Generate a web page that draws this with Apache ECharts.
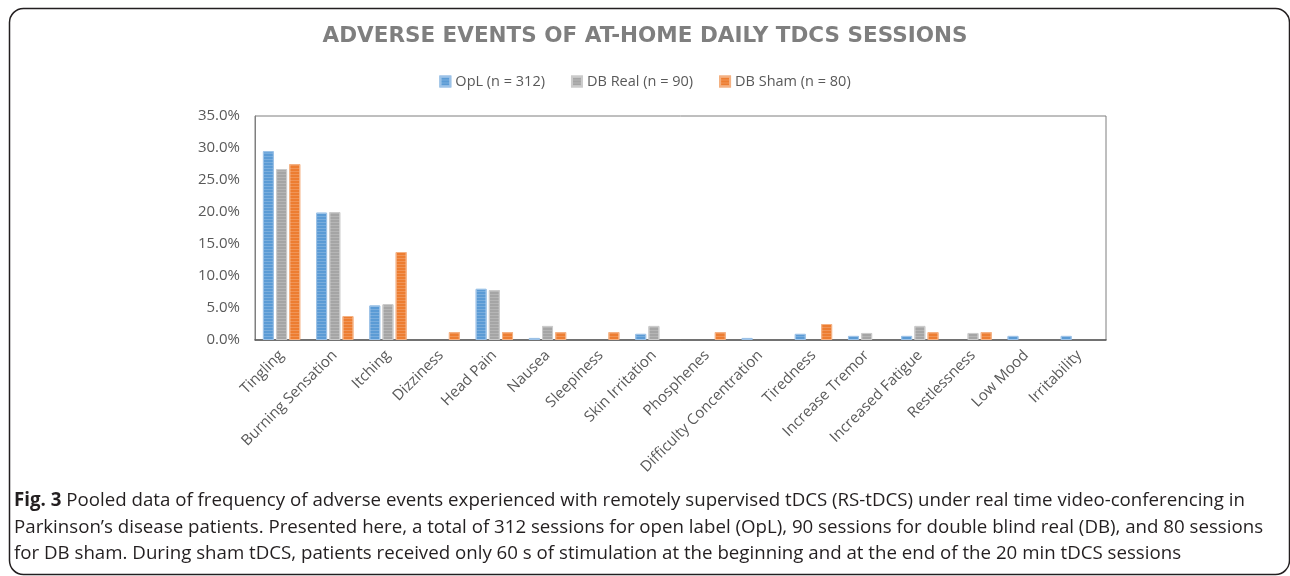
<!DOCTYPE html>
<html>
<head>
<meta charset="utf-8">
<script src="https://cdn.jsdelivr.net/npm/echarts@6/dist/echarts.min.js"></script>
<style>
html,body{margin:0;padding:0;background:#fff;}
#chart{width:1290px;height:576px;}
</style>
</head>
<body>
<div id="chart"></div>
<script>
const categories = ["Tingling","Burning Sensation","Itching","Dizziness","Head Pain","Nausea","Sleepiness","Skin Irritation","Phosphenes","Difficulty Concentration","Tiredness","Increase Tremor","Increased Fatigue","Restlessness","Low Mood","Irritability"];
const seriesNames = ["OpL (n = 312)","DB Real (n = 90)","DB Sham (n = 80)"];
const oplValues    = [29.5, 19.9, 5.4, 0, 8.0, 0.32, 0, 0.96, 0, 0.32, 0.96, 0.64, 0.64, 0, 0.64, 0.64];
const dbRealValues = [26.7, 20.0, 5.6, 0, 7.8, 2.2, 0, 2.2, 0, 0, 0, 1.1, 2.2, 1.1, 0, 0];
const dbShamValues = [27.5, 3.75, 13.75, 1.25, 1.25, 1.25, 1.25, 0, 1.25, 0, 2.5, 0, 1.25, 1.25, 0, 0];
const yTicks = {min: 0, max: 35, interval: 5};
const titleText = "ADVERSE EVENTS OF AT-HOME DAILY TDCS SESSIONS";
const captionBold = "Fig. 3";
const captionLines = [
  " Pooled data of frequency of adverse events experienced with remotely supervised tDCS (RS-tDCS) under real time video-conferencing in",
  "Parkinson\u2019s disease patients. Presented here, a total of 312 sessions for open label (OpL), 90 sessions for double blind real (DB), and 80 sessions",
  "for DB sham. During sham tDCS, patients received only 60 s of stimulation at the beginning and at the end of the 20 min tDCS sessions"
];

const colors = ['#5B9BD5', '#A5A5A5', '#ED7D31'];
const borders = ['#9CC2E7', '#CBCBCB', '#F4B183'];
const FONT = 'Open Sans';
const CAP = 18.7;

const chart = echarts.init(document.getElementById('chart'));
function mk(name, data, i) {
  return {
    name: name, type: 'bar', data: data.map(v => v === 0 ? '-' : v),
    barWidth: 11, barGap: '20%',
    itemStyle: {
      color: colors[i], borderColor: borders[i], borderWidth: 1,
      decal: {symbol: 'rect', symbolSize: 1, color: 'rgba(255,255,255,0.18)', dashArrayX: [[1, 0]], dashArrayY: [1, 2], rotation: 0}
    },
    emphasis: {disabled: true}
  };
}
chart.setOption({
  animation: false,
  color: colors,
  title: {
    text: titleText, left: 'center', top: 20,
    textStyle: {fontFamily: 'DejaVu Sans', fontSize: 21.5, fontWeight: 'bold', color: '#7f7f7f'}
  },
  legend: {
    data: seriesNames, top: 69, left: 'center',
    itemWidth: 10, itemHeight: 10, itemGap: 26, icon: 'rect',
    textStyle: {fontFamily: FONT, fontSize: 14.5, color: '#595959'}
  },
  grid: {left: 255, right: 184, top: 116, height: 224, show: true, borderColor: '#7f7f7f', borderWidth: 1, containLabel: false},
  xAxis: {
    type: 'category', data: categories,
    axisLine: {lineStyle: {color: '#595959', width: 1.5}},
    axisTick: {show: false},
    axisLabel: {rotate: 45, interval: 0, margin: 13, fontFamily: FONT, fontSize: 15, color: '#595959'}
  },
  yAxis: {
    type: 'value', min: yTicks.min, max: yTicks.max, interval: yTicks.interval,
    splitLine: {show: false},
    axisLine: {show: true, lineStyle: {color: '#7f7f7f'}},
    axisTick: {show: false},
    axisLabel: {margin: 15, fontFamily: FONT, fontSize: 15, color: '#595959', formatter: v => v.toFixed(1) + '%'}
  },
  series: [mk(seriesNames[0], oplValues, 0), mk(seriesNames[1], dbRealValues, 1), mk(seriesNames[2], dbShamValues, 2)],
  graphic: [
    {type: 'rect', shape: {x: 9.5, y: 8.5, width: 1280, height: 566, r: 14}, style: {fill: 'none', stroke: '#231f20', lineWidth: 1.5}, silent: true},
    {type: 'text', left: 14, top: 491, style: {
      text: '{b|' + captionBold + '}{n|' + captionLines[0] + '}',
      rich: {b: {fontFamily: FONT, fontSize: CAP, fontWeight: 'bold', fill: '#231f20'}, n: {fontFamily: FONT, fontSize: CAP, fill: '#231f20'}}
    }},
    {type: 'text', left: 14, top: 518, style: {text: captionLines[1], fontFamily: FONT, fontSize: CAP, fill: '#231f20'}},
    {type: 'text', left: 14, top: 544, style: {text: captionLines[2], fontFamily: FONT, fontSize: CAP, fill: '#231f20'}}
  ]
});
</script>
</body>
</html>
